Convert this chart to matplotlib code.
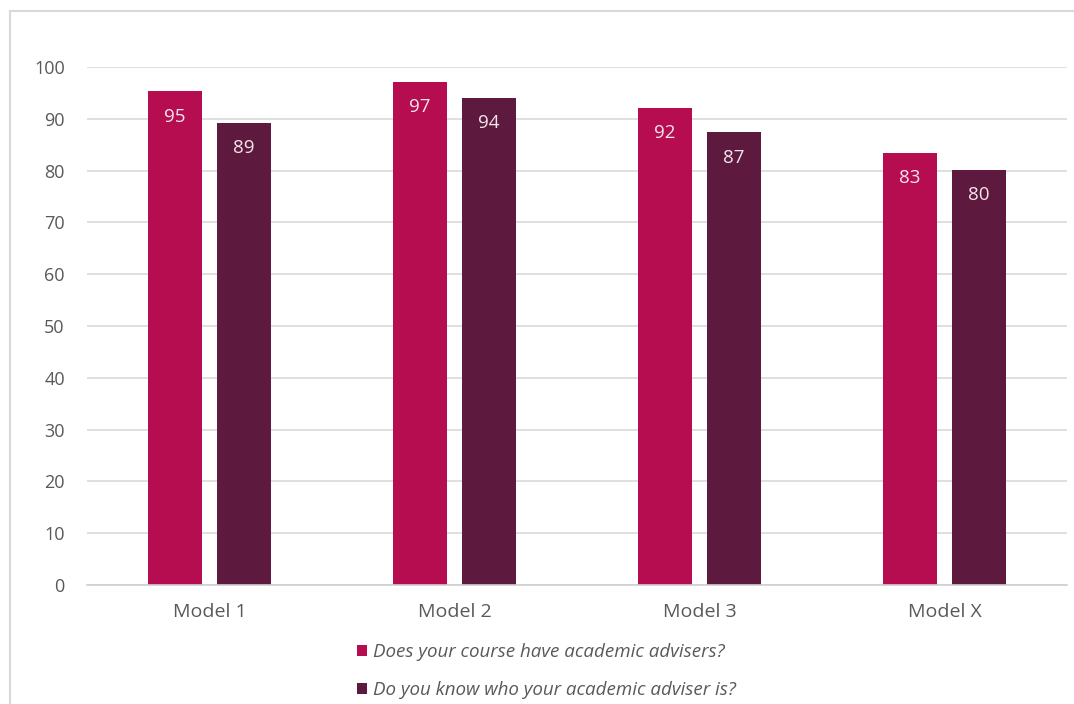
import numpy as np
import matplotlib.pyplot as plt
from matplotlib.patches import Rectangle

categories = ["Model 1", "Model 2", "Model 3", "Model X"]
series_names = ["Does your course have academic advisers?",
                "Do you know who your academic adviser is?"]
have_advisers = [95.3, 97.1, 92.1, 83.4]
know_adviser = [89.2, 94.0, 87.4, 80.1]
yticks = [0, 10, 20, 30, 40, 50, 60, 70, 80, 90, 100]

colors = ["#B50D4F", "#5E1A3E"]
plt.rcParams["font.family"] = ["Open Sans", "DejaVu Sans"]

fig = plt.figure(figsize=(10.74, 7.04), dpi=100)
ax = fig.add_axes([0.081, 0.169, 0.9125, 0.736])

x = np.arange(len(categories))
w = 0.22
off = 0.141
for vals, dx, c, name in [(have_advisers, -off, colors[0], series_names[0]),
                          (know_adviser, off, colors[1], series_names[1])]:
    bars = ax.bar(x + dx, vals, width=w, color=c, label=name)
    for b, v in zip(bars, vals):
        ax.text(b.get_x() + b.get_width() / 2, v - 4.9, "%d" % round(v),
                ha="center", va="center", color="#F2E6EC", fontsize=13.5)

ax.set_xlim(-0.5, 3.5)
ax.set_ylim(0, 100)
ax.set_yticks(yticks)
ax.set_xticks(x)
ax.set_xticklabels(categories)
ax.grid(axis="y", color="#D9D9D9", linewidth=1.2)
ax.set_axisbelow(True)
for s in ["top", "right", "left"]:
    ax.spines[s].set_visible(False)
ax.spines["bottom"].set_color("#D0D0D0")
ax.spines["bottom"].set_linewidth(1.2)
ax.tick_params(length=0, colors="#595959")
ax.tick_params(axis="x", pad=13, labelsize=14)
ax.tick_params(axis="y", pad=16, labelsize=13)

leg = fig.legend(loc="upper left", bbox_to_anchor=(0.325, 0.097), frameon=False,
                 handlelength=0.57, handleheight=0.57, handletextpad=0.3,
                 labelspacing=1.05, fontsize=13.5, borderaxespad=0)
for t in leg.get_texts():
    t.set_color("#595959")
    t.set_style("italic")

# outer chart frame
fig.patches.append(Rectangle((10 / 1074, -0.05), 1.1, 1 - 11 / 704 + 0.05,
                             transform=fig.transFigure, fill=False,
                             edgecolor="#D9D9D9", linewidth=1.5))

fig.savefig("out.png", dpi=100)
